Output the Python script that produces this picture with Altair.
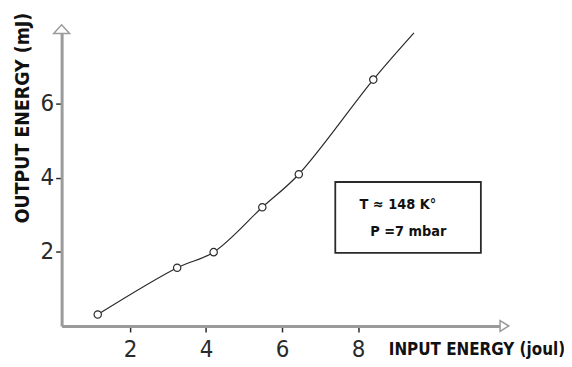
import altair as alt
import pandas as pd

# measured points
input_energy = [1.15, 3.24, 4.2, 5.48, 6.44, 8.4]
output_energy = [0.31, 1.57, 1.99, 3.2, 4.09, 6.64]

# fitted curve
curve_x = [1.15, 3.24, 4.2, 5.48, 6.44, 8.4, 9.47]
curve_y = [0.31, 1.57, 1.99, 3.2, 4.09, 6.64, 7.9]

x_ticks = [2, 4, 6, 8]
y_ticks = [2, 4, 6]
x_domain = [0.2, 11.85]
y_domain = [0.0, 8.0]

note_lines = ["T \u2248 148 K\u00b0", "P =7 mbar"]
note_x = [8.04, 8.32]
note_y = [3.16, 2.42]
box_x = [7.4, 11.23]
box_y = [1.97, 3.88]

FONT = "Liberation Sans Narrow, DejaVu Sans Condensed, sans-serif"
AX = "#9a9a9a"
INK = "#2a2a2a"

pts = pd.DataFrame({"x": input_energy, "y": output_energy})
crv = pd.DataFrame({"x": curve_x, "y": curve_y, "o": list(range(len(curve_x)))})

xs = alt.Scale(domain=x_domain, nice=False, zero=False)
ys = alt.Scale(domain=y_domain, nice=False, zero=False)

x_axis = alt.Axis(
    values=x_ticks, grid=False, domainColor=AX, domainWidth=3,
    tickColor=INK, tickWidth=1.5, tickSize=6,
    labelFont=FONT, labelFontSize=24, labelColor=INK,
    labelBaseline="alphabetic", labelPadding=25,
    title="INPUT ENERGY (joul)", titleFont=FONT, titleFontSize=17,
    titleFontWeight="bold", titleColor="#111",
    titleAnchor="start", titleAlign="left", titleBaseline="alphabetic",
    titleX=329, titleY=29,
)
y_axis = alt.Axis(
    values=y_ticks, grid=False, domainColor=AX, domainWidth=3,
    tickColor=INK, tickWidth=1.5, tickSize=6,
    labelFont=FONT, labelFontSize=24, labelColor=INK, labelPadding=2,
    title="OUTPUT ENERGY (mJ)", titleFont=FONT, titleFontSize=19.5,
    titleFontWeight="bold", titleColor="#111",
    titleAngle=270, titleAlign="center", titleBaseline="alphabetic",
    titleX=-33, titleY=89,
)

line = alt.Chart(crv).mark_line(
    color=INK, strokeWidth=1.2, interpolate="catmull-rom"
).encode(
    x=alt.X("x:Q", scale=xs, axis=x_axis),
    y=alt.Y("y:Q", scale=ys, axis=y_axis),
    order="o:O",
)

points = alt.Chart(pts).mark_point(
    shape="circle", size=55, filled=True, fill="white", stroke=INK, strokeWidth=1.2, opacity=1
).encode(x=alt.X("x:Q", scale=xs), y=alt.Y("y:Q", scale=ys))

up_arrow = alt.Chart(pd.DataFrame({"x": [x_domain[0]], "y": [y_domain[1]]})).mark_point(
    shape="M-1,0.55L1,0.55L0,-0.55Z", size=256, filled=True, fill="white",
    stroke=AX, strokeWidth=1.5, opacity=1
).encode(x=alt.X("x:Q", scale=xs), y=alt.Y("y:Q", scale=ys))

right_arrow = alt.Chart(pd.DataFrame({"x": [x_domain[1]], "y": [y_domain[0]]})).mark_point(
    shape="M-0.8,-1L0.8,0L-0.8,1Z", size=121, filled=True, fill="white",
    stroke=AX, strokeWidth=1.5, opacity=1
).encode(x=alt.X("x:Q", scale=xs), y=alt.Y("y:Q", scale=ys))

box = alt.Chart(pd.DataFrame({"x": [box_x[0]], "x2": [box_x[1]], "y": [box_y[0]], "y2": [box_y[1]]})).mark_rect(
    fill="white", stroke=INK, strokeWidth=1.8
).encode(
    x=alt.X("x:Q", scale=xs), x2="x2:Q",
    y=alt.Y("y:Q", scale=ys), y2="y2:Q",
)

notes = pd.DataFrame({"x": note_x, "y": note_y, "t": note_lines})
note_text = alt.Chart(notes).mark_text(
    font=FONT, fontSize=14.5, fontWeight="bold", color="#111", align="left", baseline="alphabetic"
).encode(x=alt.X("x:Q", scale=xs), y=alt.Y("y:Q", scale=ys), text="t:N")

chart = alt.layer(line, points, up_arrow, right_arrow, box, note_text).properties(
    width=446, height=299,
    autosize=alt.AutoSizeParams(type="none"),
    padding={"left": 54, "top": 20, "right": 60, "bottom": 38},
    background="white",
).configure_view(stroke=None)

chart.save("out.html", embed_options={"renderer": "svg", "actions": False})
